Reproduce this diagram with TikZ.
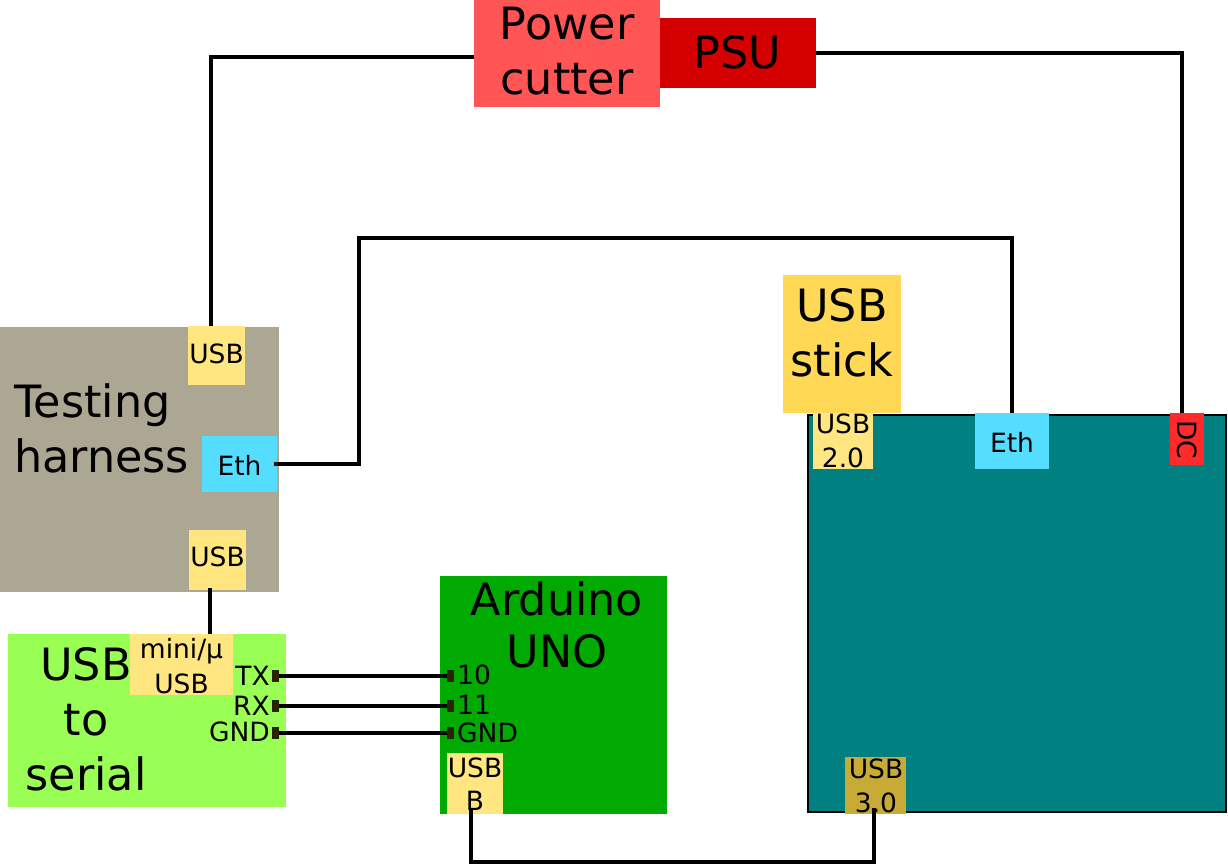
\documentclass[tikz,border=0pt]{standalone}
\usepackage{fontspec}
\setmainfont{DejaVu Sans}
\definecolor{harnessc}{HTML}{ACA793}
\definecolor{usbc}{HTML}{FFE680}
\definecolor{ethc}{HTML}{55DDFF}
\definecolor{cutterc}{HTML}{FF5555}
\definecolor{psuc}{HTML}{D40000}
\definecolor{serialc}{HTML}{99FF55}
\definecolor{arduc}{HTML}{00AA00}
\definecolor{boardc}{HTML}{008080}
\definecolor{stickc}{HTML}{FFD955}
\definecolor{usbthreec}{HTML}{C8AB37}
\definecolor{dcc}{HTML}{FF2A2A}
\definecolor{pinc}{HTML}{2B2200}
\tikzset{
  rect/.style={rectangle, inner sep=0pt, outer sep=0pt, draw=none},
  big/.style={inner sep=0pt, font=\fontsize{44.5}{56}\selectfont},
  small/.style={inner sep=0pt, font=\fontsize{26.5}{34}\selectfont},
  pin/.style={rectangle, inner sep=0pt, outer sep=0pt, fill=pinc, minimum width=7pt, minimum height=12pt},
  wire/.style={line width=4pt, black},
}
\begin{document}
\begin{tikzpicture}[x=1pt,y=-1pt]
\useasboundingbox (0,0) rectangle (1228,866);
% boxes
\node[rect, fill=cutterc, minimum width=186pt, minimum height=107pt] (pc) at (567,53.5) {};
\node[rect, fill=psuc, minimum width=156pt, minimum height=70pt] (psu) at (738,53) {};
\node[rect, fill=harnessc, minimum width=279pt, minimum height=265pt] (harness) at (139.5,459.5) {};
\node[rect, fill=usbc, minimum width=57pt, minimum height=59pt] (husbA) at (216.5,355.5) {};
\node[rect, fill=ethc, minimum width=75pt, minimum height=56pt] (heth) at (239.5,464) {};
\node[rect, fill=usbc, minimum width=57pt, minimum height=60pt] (husbB) at (217.5,560) {};
\node[rect, fill=serialc, minimum width=278pt, minimum height=173pt] (serial) at (147,720.5) {};
\node[rect, fill=usbc, minimum width=103pt, minimum height=61pt] (mini) at (181.5,664.5) {};
\node[rect, fill=arduc, minimum width=227pt, minimum height=238pt] (ardu) at (553.5,695) {};
\node[rect, fill=usbc, minimum width=56pt, minimum height=61pt] (usbb) at (475,783.5) {};
\node[rect, fill=boardc, draw=black, line width=2pt, minimum width=418pt, minimum height=397pt] (board) at (1017,613.5) {};
\node[rect, fill=stickc, minimum width=118pt, minimum height=138pt] (stick) at (842,344) {};
\node[rect, fill=usbc, minimum width=60pt, minimum height=56pt] (usbtwo) at (843,441) {};
\node[rect, fill=ethc, minimum width=74pt, minimum height=56pt] (beth) at (1012,441) {};
\node[rect, fill=dcc, minimum width=34pt, minimum height=52pt] (dc) at (1187,439) {};
\node[rect, fill=usbthreec, minimum width=61pt, minimum height=57pt] (usbthree) at (875.5,785.5) {};
% pins
\node[pin] (ptx) at (275.5,676) {};
\node[pin] (prx) at (275.5,706) {};
\node[pin] (pgnd) at (275.5,733) {};
\node[pin] (pten) at (450.5,676) {};
\node[pin] (peleven) at (450.5,706) {};
\node[pin] (pagnd) at (450.5,733) {};
% texts
\node[big, anchor=base] (tpower) at (567,40) {Power};
\node[big, anchor=base] (tcutter) at (567,95) {cutter};
\node[big, anchor=base] (tpsu) at (737,69) {PSU};
\node[big, anchor=base west] (ttesting) at (14,417) {Testing};
\node[big, anchor=base west] (tharness) at (14,472) {harness};
\node[small, anchor=base] (tusbA) at (216.5,363) {USB};
\node[small, anchor=base] (theth) at (239.5,475) {Eth};
\node[small, anchor=base] (tusbB) at (217.5,566) {USB};
\node[big, anchor=base] (tsusb) at (86,680) {USB};
\node[big, anchor=base] (tsto) at (86,735) {to};
\node[big, anchor=base] (tsserial) at (86,790) {serial};
\node[small, anchor=base] (tmini) at (181.5,658) {mini/µ};
\node[small, anchor=base] (tminiusb) at (181.5,693) {USB};
\node[small, anchor=base east] (ttx) at (270,685) {TX};
\node[small, anchor=base east] (trx) at (270,715) {RX};
\node[small, anchor=base east] (tgnd) at (270,741) {GND};
\node[big, anchor=base] (tarduino) at (557,615) {Arduino};
\node[big, anchor=base] (tuno) at (557,667) {UNO};
\node[small, anchor=base west] (tten) at (457,684) {10};
\node[small, anchor=base west] (televen) at (457,714) {11};
\node[small, anchor=base west] (tagnd) at (457,742) {GND};
\node[small, anchor=base] (tusbbA) at (475,777) {USB};
\node[small, anchor=base] (tusbbB) at (475,810) {B};
\node[big, anchor=base] (tstickA) at (842,322) {USB};
\node[big, anchor=base] (tstickB) at (842,376) {stick};
\node[small, anchor=base] (tusbtwoA) at (843,433) {USB};
\node[small, anchor=base] (tusbtwoB) at (843,467) {2.0};
\node[small, anchor=base] (tbeth) at (1012,452) {Eth};
\node[small, rotate=-90] (tdc) at (1187,440) {DC};
\node[small, anchor=base] (tusbthreeA) at (876,778) {USB};
\node[small, anchor=base] (tusbthreeB) at (876,812) {3.0};
% wires
\coordinate (ethtop) at (359,238);
\draw[wire] ([yshift=-3.5pt]pc.west) -| ([xshift=-5.5pt]husbA.north);
\draw[wire] (psu.east) -| ([xshift=-5pt]dc.north);
\draw[wire] ([xshift=-3pt]heth.east) -| (ethtop) -| (beth.north);
\draw[wire] ([xshift=-7.5pt,yshift=2pt]husbB.south) -- ([xshift=-7.5pt]husbB.south |- mini.north);
\draw[wire] (ptx.east) -- (pten.west);
\draw[wire] (prx.east) -- (peleven.west);
\draw[wire] (pgnd.east) -- (pagnd.west);
\draw[wire] ([xshift=-4pt,yshift=6pt]usbb.south) -- ++(0,54) -| ([xshift=-1.5pt,yshift=6pt]usbthree.south);
\end{tikzpicture}
\end{document}
